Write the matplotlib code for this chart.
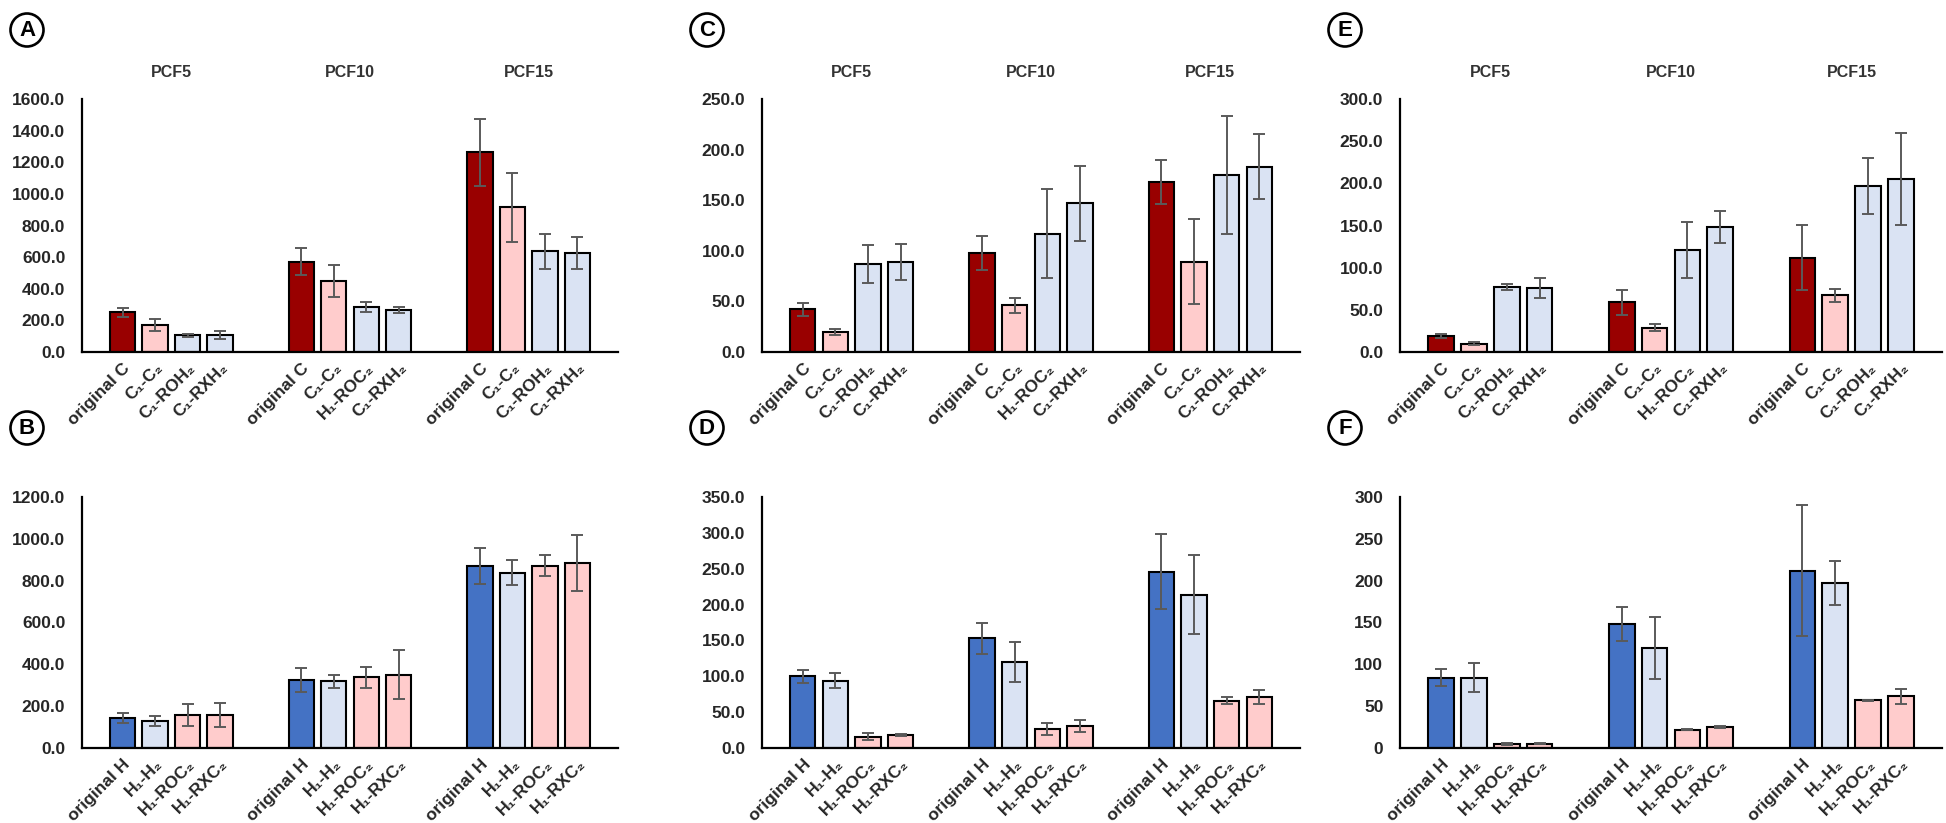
import numpy as np
import matplotlib.pyplot as plt
from matplotlib.ticker import FormatStrFormatter

# ---- data ----
groups = ["PCF5", "PCF10", "PCF15"]

labels_C = [
    ["original C", "C\u2081-C\u2082", "C\u2081-ROH\u2082", "C\u2081-RXH\u2082"],
    ["original C", "C\u2081-C\u2082", "H\u2081-ROC\u2082", "C\u2081-RXH\u2082"],
    ["original C", "C\u2081-C\u2082", "C\u2081-ROH\u2082", "C\u2081-RXH\u2082"],
]
labels_H = [["original H", "H\u2081-H\u2082", "H\u2081-ROC\u2082", "H\u2081-RXC\u2082"]] * 3

# panel A
A_mean = [[250, 170, 106, 106], [572, 449, 284, 267], [1263, 915, 636, 627]]
A_err = [[28, 37, 8, 24], [88, 103, 30, 18], [213, 219, 110, 100]]
# panel B
B_mean = [[143, 130, 157, 157], [326, 318, 339, 351], [871, 838, 871, 884]]
B_err = [[24, 23, 53, 57], [57, 31, 50, 118], [87, 61, 51, 132]]
# panel C
C_mean = [[42, 20, 87, 89], [98, 46, 117, 147], [168, 89, 175, 183]]
C_err = [[6, 3, 19, 18], [17, 7, 44, 37], [22, 42, 58, 32]]
# panel D
D_mean = [[100, 94, 16, 18], [153, 120, 27, 31], [246, 214, 66, 71]]
D_err = [[9, 11, 5, 1.5], [22, 28, 8.5, 8], [52, 55, 5, 10]]
# panel E
E_mean = [[19, 10, 77, 76], [59, 29, 121, 148], [112, 67, 197, 205]]
E_err = [[2, 1.5, 4, 12], [15, 4.5, 33, 19], [38, 7.5, 33, 55]]
# panel F
F_mean = [[84, 84, 5, 5], [148, 120, 22, 25], [212, 197, 57, 62]]
F_err = [[10, 17, 1, 0.8], [20, 37, 0.8, 1.5], [78, 26, 0.8, 9]]

DARKRED = "#990000"
PINK = "#FFCCCC"
LBLUE = "#DAE3F3"
BLUE = "#4472C4"
cols_C = [DARKRED, PINK, LBLUE, LBLUE]
cols_H = [BLUE, LBLUE, PINK, PINK]

FONT = ["Liberation Sans", "DejaVu Sans"]
plt.rcParams["font.family"] = FONT
WEIGHT = "bold"

W, H = 1946, 823
fig = plt.figure(figsize=(W / 100, H / 100), dpi=100)

GAP = 5.5


def panel(rect, letter, means, errs, labels, cols, ymax, ystep, fmt, titles):
    l, t, r, b = rect
    ax = fig.add_axes([l / W, 1 - b / H, (r - l) / W, (b - t) / H])
    xs, ls = [], []
    for g in range(3):
        x = g * GAP + np.arange(4)
        ax.bar(x, means[g], width=0.78, color=cols, edgecolor="black", linewidth=1.5, zorder=2)
        ax.errorbar(x, means[g], yerr=errs[g], fmt="none", ecolor="#5a5a5a",
                    elinewidth=1.4, capsize=4, capthick=1.4, zorder=3)
        xs += list(x)
        ls += labels[g]
        if titles:
            ax.text(g * GAP + 1.5, 1.105, groups[g], transform=ax.get_xaxis_transform(),
                    ha="center", va="center", fontsize=11.5, fontweight=WEIGHT,
                    color="#333333")
    ax.set_xlim(-1.25, 2 * GAP + 3 + 1.25)
    ax.set_ylim(0, ymax)
    ax.set_yticks(np.arange(0, ymax + ystep / 2, ystep))
    ax.yaxis.set_major_formatter(FormatStrFormatter(fmt))
    ax.set_xticks(xs)
    ax.set_xticklabels(ls, rotation=45, ha="right", va="top", rotation_mode="anchor",
                       fontsize=12.5, fontweight=WEIGHT, color="#262626")
    for lab in ax.get_yticklabels():
        lab.set_fontweight(WEIGHT)
        lab.set_fontsize(12.5)
        lab.set_color("#262626")
    ax.tick_params(axis="y", length=0, pad=12)
    ax.tick_params(axis="x", length=0, pad=6)
    for s in ["top", "right"]:
        ax.spines[s].set_visible(False)
    for s in ["left", "bottom"]:
        ax.spines[s].set_linewidth(1.6)
        ax.spines[s].set_color("black")
    # circled panel letter
    fig.text((l - 55) / W, 1 - (t - 69) / H, letter, ha="center", va="center",
             fontsize=16, fontweight=WEIGHT,
             bbox=dict(boxstyle="circle,pad=0.27", fc="white", ec="black", lw=1.9))
    return ax


top = (99, 352)
bot = (497, 748)
cols_x = [(82, 618), (762, 1300), (1400, 1942)]

panel((cols_x[0][0], top[0], cols_x[0][1], top[1]), "A", A_mean, A_err, labels_C, cols_C, 1600, 200, "%.1f", True)
panel((cols_x[0][0], bot[0], cols_x[0][1], bot[1]), "B", B_mean, B_err, labels_H, cols_H, 1200, 200, "%.1f", False)
panel((cols_x[1][0], top[0], cols_x[1][1], top[1]), "C", C_mean, C_err, labels_C, cols_C, 250, 50, "%.1f", True)
panel((cols_x[1][0], bot[0], cols_x[1][1], bot[1]), "D", D_mean, D_err, labels_H, cols_H, 350, 50, "%.1f", False)
panel((cols_x[2][0], top[0], cols_x[2][1], top[1]), "E", E_mean, E_err, labels_C, cols_C, 300, 50, "%.1f", True)
panel((cols_x[2][0], bot[0], cols_x[2][1], bot[1]), "F", F_mean, F_err, labels_H, cols_H, 300, 50, "%d", False)

fig.savefig("out.png", dpi=100, facecolor="white")
